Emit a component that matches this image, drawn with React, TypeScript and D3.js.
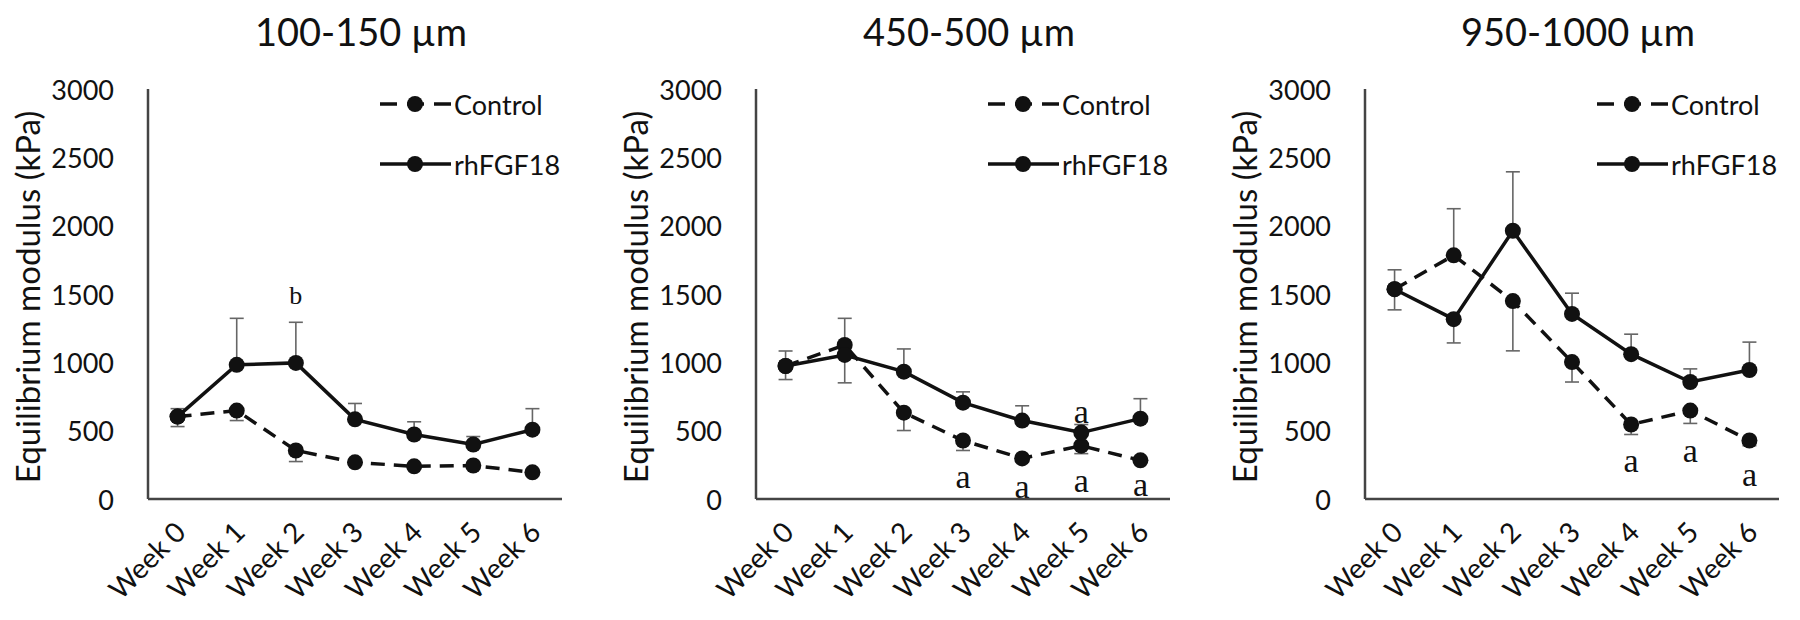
import React from 'react';
import * as d3 from 'd3';

const weeks = ['Week 0', 'Week 1', 'Week 2', 'Week 3', 'Week 4', 'Week 5', 'Week 6'];
const yTicks = [0, 500, 1000, 1500, 2000, 2500, 3000];
const panelTitles = ['100-150 µm', '450-500 µm', '950-1000 µm'];
const seriesNames = ['Control', 'rhFGF18'];

// Panel 1: 100-150 µm
const control1 = [603, 647, 355, 268, 239, 245, 195];
const control1Plus = [0, 0, 0, 0, 0, 0, 0];
const control1Minus = [73, 73, 81, 20, 15, 15, 25];
const rh1 = [603, 982, 996, 583, 472, 399, 507];
const rh1Plus = [58, 340, 297, 116, 93, 58, 154];
const rh1Minus = [0, 0, 0, 0, 0, 0, 0];
const annot1 = [{ week: 'Week 2', text: 'b', value: 1491 }];

// Panel 2: 450-500 µm
const control2 = [973, 1127, 632, 428, 297, 390, 283];
const control2Plus = [0, 0, 0, 0, 0, 0, 0];
const control2Minus = [99, 277, 131, 73, 15, 58, 15];
const rh2 = [973, 1054, 932, 705, 574, 486, 588];
const rh2Plus = [110, 268, 166, 79, 108, 59, 146];
const rh2Minus = [0, 0, 0, 0, 0, 0, 0];
const annot2 = [
  { week: 'Week 3', text: 'a', value: 166 },
  { week: 'Week 4', text: 'a', value: 93 },
  { week: 'Week 5', text: 'a', value: 137 },
  { week: 'Week 5', text: 'a', value: 641 },
  { week: 'Week 6', text: 'a', value: 108 },
];

// Panel 3: 950-1000 µm
const control3 = [1535, 1783, 1448, 1002, 545, 647, 428];
const control3Plus = [0, 341, 0, 0, 0, 0, 0];
const control3Minus = [151, 0, 364, 146, 73, 94, 38];
const rh3 = [1535, 1316, 1963, 1354, 1060, 856, 944];
const rh3Plus = [142, 0, 431, 152, 146, 96, 204];
const rh3Minus = [0, 174, 0, 0, 0, 0, 0];
const annot3 = [
  { week: 'Week 4', text: 'a', value: 283 },
  { week: 'Week 5', text: 'a', value: 355 },
  { week: 'Week 6', text: 'a', value: 181 },
];

const panels = [
  { title: panelTitles[0], control: control1, cPlus: control1Plus, cMinus: control1Minus, rh: rh1, rPlus: rh1Plus, rMinus: rh1Minus, annot: annot1 },
  { title: panelTitles[1], control: control2, cPlus: control2Plus, cMinus: control2Minus, rh: rh2, rPlus: rh2Plus, rMinus: rh2Minus, annot: annot2 },
  { title: panelTitles[2], control: control3, cPlus: control3Plus, cMinus: control3Minus, rh: rh3, rPlus: rh3Plus, rMinus: rh3Minus, annot: annot3 },
];

const panelX = [148, 756, 1365];
const plotW = 414;
const yTop = 89;
const yBottom = 499;
const FONT = 'Lato, "Open Sans", sans-serif';
const SERIF = '"Liberation Serif", "DejaVu Serif", serif';
const INK = '#111';
const DASH = '14,9';

function Panel({ p, x0 }: { p: any; x0: number }) {
  const x = d3.scaleBand<string>().domain(weeks).range([x0, x0 + plotW]).padding(0);
  const y = d3.scaleLinear().domain([0, 3000]).range([yBottom, yTop]);
  const cx = (w: string) => (x(w) as number) + x.bandwidth() / 2;
  const line = d3
    .line<number>()
    .x((_, i) => cx(weeks[i]))
    .y((d) => y(d));

  const errBars = (vals: number[], plus: number[], minus: number[], key: string) =>
    vals.map((v, i) => {
      const xx = cx(weeks[i]);
      const out: any[] = [];
      if (plus[i] > 0) {
        out.push(
          <g key={key + 'p' + i}>
            <line x1={xx} x2={xx} y1={y(v)} y2={y(v + plus[i])} stroke="#666" strokeWidth={1.6} />
            <line x1={xx - 7} x2={xx + 7} y1={y(v + plus[i])} y2={y(v + plus[i])} stroke="#666" strokeWidth={1.6} />
          </g>
        );
      }
      if (minus[i] > 0) {
        out.push(
          <g key={key + 'm' + i}>
            <line x1={xx} x2={xx} y1={y(v)} y2={y(v - minus[i])} stroke="#666" strokeWidth={1.6} />
            <line x1={xx - 7} x2={xx + 7} y1={y(v - minus[i])} y2={y(v - minus[i])} stroke="#666" strokeWidth={1.6} />
          </g>
        );
      }
      return out;
    });

  const legX = x0 + 232;
  return (
    <g>
      <text x={x0 + plotW / 2 + 6} y={46} textAnchor="middle" fontFamily={FONT} fontSize={38} fill={INK}>
        {p.title}
      </text>
      {/* y axis title */}
      <text
        transform={`translate(${x0 - 121},${297}) rotate(-90)`}
        textAnchor="middle"
        dominantBaseline="central"
        fontFamily={FONT}
        fontSize={33}
        fill={INK}
      >
        Equilibrium modulus (kPa)
      </text>
      {yTicks.map((t) => (
        <text key={t} x={x0 - 34} y={y(t)} textAnchor="end" dominantBaseline="central" fontFamily={FONT} fontSize={27} fill={INK}>
          {t}
        </text>
      ))}
      {weeks.map((w) => (
        <text
          key={w}
          transform={`translate(${cx(w) + 10},${534}) rotate(-45)`}
          textAnchor="end"
          fontFamily={FONT}
          fontSize={28}
          fill={INK}
        >
          {w}
        </text>
      ))}
      {errBars(p.control, p.cPlus, p.cMinus, 'c')}
      {errBars(p.rh, p.rPlus, p.rMinus, 'r')}
      <path d={line(p.control) as string} fill="none" stroke={INK} strokeWidth={3.5} strokeDasharray={DASH} />
      <path d={line(p.rh) as string} fill="none" stroke={INK} strokeWidth={3.5} />
      {p.control.map((v: number, i: number) => (
        <circle key={'cc' + i} cx={cx(weeks[i])} cy={y(v)} r={8} fill={INK} />
      ))}
      {p.rh.map((v: number, i: number) => (
        <circle key={'rc' + i} cx={cx(weeks[i])} cy={y(v)} r={8} fill={INK} />
      ))}
      {p.annot.map((a: any, i: number) => (
        <text
          key={'a' + i}
          x={cx(a.week)}
          y={y(a.value)}
          textAnchor="middle"
          dominantBaseline="central"
          fontFamily={SERIF}
          fontSize={a.text === 'a' ? 34 : 26}
          fill={INK}
        >
          {a.text}
        </text>
      ))}
      {/* axes */}
      <line x1={x0} x2={x0} y1={yTop} y2={yBottom} stroke="#444" strokeWidth={2.5} />
      <line x1={x0} x2={x0 + plotW} y1={yBottom} y2={yBottom} stroke="#444" strokeWidth={2.5} />
      {/* legend */}
      <line x1={legX} x2={legX + 71} y1={104} y2={104} stroke={INK} strokeWidth={3.5} strokeDasharray="17,10" />
      <circle cx={legX + 35} cy={104} r={8} fill={INK} />
      <text x={legX + 74} y={104} dominantBaseline="central" fontFamily={FONT} fontSize={27} fill={INK}>
        {seriesNames[0]}
      </text>
      <line x1={legX} x2={legX + 71} y1={164} y2={164} stroke={INK} strokeWidth={3.5} />
      <circle cx={legX + 35} cy={164} r={8} fill={INK} />
      <text x={legX + 74} y={164} dominantBaseline="central" fontFamily={FONT} fontSize={27} fill={INK}>
        {seriesNames[1]}
      </text>
    </g>
  );
}

export default function App() {
  return (
    <svg width={1800} height={620} style={{ position: 'absolute', left: 0, top: 0, background: '#fff' }}>
      <rect x={0} y={0} width={1800} height={620} fill="#fff" />
      {panels.map((p, i) => (
        <Panel key={i} p={p} x0={panelX[i]} />
      ))}
    </svg>
  );
}
